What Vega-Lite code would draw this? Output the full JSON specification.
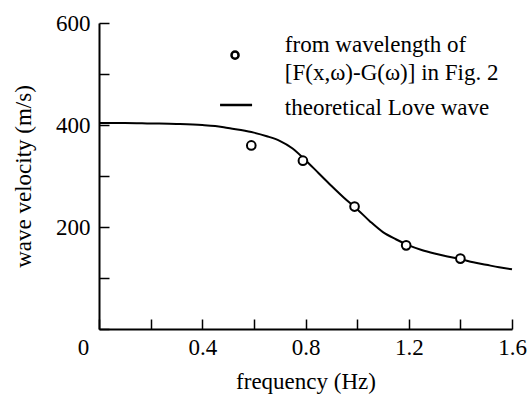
{
  "$schema": "https://vega.github.io/schema/vega-lite/v6.json",
  "width": 413,
  "height": 306,
  "autosize": {"type": "none"},
  "padding": {"left": 99, "top": 23, "right": 19, "bottom": 66},
  "background": "white",
  "config": {
    "view": {"stroke": null},
    "font": "Liberation Serif",
    "axis": {"labelFont": "Liberation Serif", "titleFont": "Liberation Serif", "labelColor": "black", "titleColor": "black", "titleFontWeight": "normal", "domainColor": "black", "tickColor": "black", "grid": false}
  },
  "datasets": {
    "curve": [
      {"f": 0.0, "v": 404}, {"f": 0.1, "v": 404}, {"f": 0.2, "v": 403}, {"f": 0.3, "v": 402},
      {"f": 0.4, "v": 400}, {"f": 0.45, "v": 398}, {"f": 0.5, "v": 394}, {"f": 0.55, "v": 390},
      {"f": 0.6, "v": 385}, {"f": 0.65, "v": 378}, {"f": 0.7, "v": 369}, {"f": 0.75, "v": 354},
      {"f": 0.8, "v": 331}, {"f": 0.85, "v": 306}, {"f": 0.9, "v": 281}, {"f": 0.95, "v": 257},
      {"f": 1.0, "v": 235}, {"f": 1.05, "v": 211}, {"f": 1.1, "v": 190}, {"f": 1.15, "v": 176},
      {"f": 1.2, "v": 164}, {"f": 1.25, "v": 155}, {"f": 1.3, "v": 148}, {"f": 1.35, "v": 142},
      {"f": 1.4, "v": 137}, {"f": 1.45, "v": 131}, {"f": 1.5, "v": 126}, {"f": 1.55, "v": 121},
      {"f": 1.6, "v": 117}
    ],
    "points": [
      {"f": 0.59, "v": 360}, {"f": 0.79, "v": 330}, {"f": 0.99, "v": 240},
      {"f": 1.19, "v": 164}, {"f": 1.4, "v": 138}
    ],
    "legendSymbol": [{"f": 0.527, "v": 537}],
    "legendLine": [{"f": 0.469, "v": 439}, {"f": 0.593, "v": 439}],
    "legendText": [
      {"f": 0.72, "v": 557, "t": "from wavelength of"},
      {"f": 0.72, "v": 501, "t": "[F(x,ω)-G(ω)] in Fig. 2"},
      {"f": 0.72, "v": 434, "t": "theoretical Love wave"}
    ]
  },
  "layer": [
    {
      "data": {"name": "curve"},
      "mark": {"type": "line", "color": "black", "strokeWidth": 2, "interpolate": "monotone"},
      "encoding": {
        "x": {
          "field": "f", "type": "quantitative",
          "scale": {"domain": [0, 1.6], "nice": false, "zero": false},
          "axis": {
            "title": "frequency (Hz)",
            "titleFontSize": 23,
            "titlePadding": 11,
            "values": [0, 0.2, 0.4, 0.6, 0.8, 1.0, 1.2, 1.4, 1.6],
            "labelExpr": "round(datum.value*10) % 4 == 0 ? (datum.value == 0 ? '0' : format(datum.value, '.1f')) : ''",
            "labelFontSize": 23,
            "labelPadding": 17,
            "labelOffset": {"condition": {"test": "datum.value == 0", "value": -16}, "value": 0},
            "tickSize": -10,
            "tickWidth": 1.5,
            "domainWidth": 2,
            "labelFlush": false,
            "labelOverlap": false
          }
        },
        "y": {
          "field": "v", "type": "quantitative",
          "scale": {"domain": [0, 600], "nice": false},
          "axis": {
            "title": "wave velocity (m/s)",
            "titleFontSize": 23,
            "titlePadding": 20,
            "values": [0, 100, 200, 300, 400, 500, 600],
            "labelExpr": "datum.value > 0 && datum.value % 200 == 0 ? datum.label : ''",
            "labelFontSize": 23,
            "labelPadding": 19,
            "tickSize": -10,
            "tickWidth": 1.5,
            "domainWidth": 2,
            "labelFlush": false,
            "labelOverlap": false
          }
        }
      }
    },
    {
      "data": {"name": "points"},
      "mark": {"type": "point", "shape": "circle", "filled": false, "fill": "white", "stroke": "black", "strokeWidth": 2, "size": 75, "opacity": 1},
      "encoding": {
        "x": {"field": "f", "type": "quantitative"},
        "y": {"field": "v", "type": "quantitative"}
      }
    },
    {
      "data": {"name": "legendSymbol"},
      "mark": {"type": "point", "shape": "circle", "filled": false, "fill": "white", "stroke": "black", "strokeWidth": 2.5, "size": 50, "opacity": 1},
      "encoding": {
        "x": {"field": "f", "type": "quantitative"},
        "y": {"field": "v", "type": "quantitative"}
      }
    },
    {
      "data": {"name": "legendLine"},
      "mark": {"type": "line", "color": "black", "strokeWidth": 2.5},
      "encoding": {
        "x": {"field": "f", "type": "quantitative"},
        "y": {"field": "v", "type": "quantitative"}
      }
    },
    {
      "data": {"name": "legendText"},
      "mark": {"type": "text", "align": "left", "baseline": "middle", "fontSize": 23, "font": "Liberation Serif", "color": "black"},
      "encoding": {
        "x": {"field": "f", "type": "quantitative"},
        "y": {"field": "v", "type": "quantitative"},
        "text": {"field": "t"}
      }
    }
  ]
}
